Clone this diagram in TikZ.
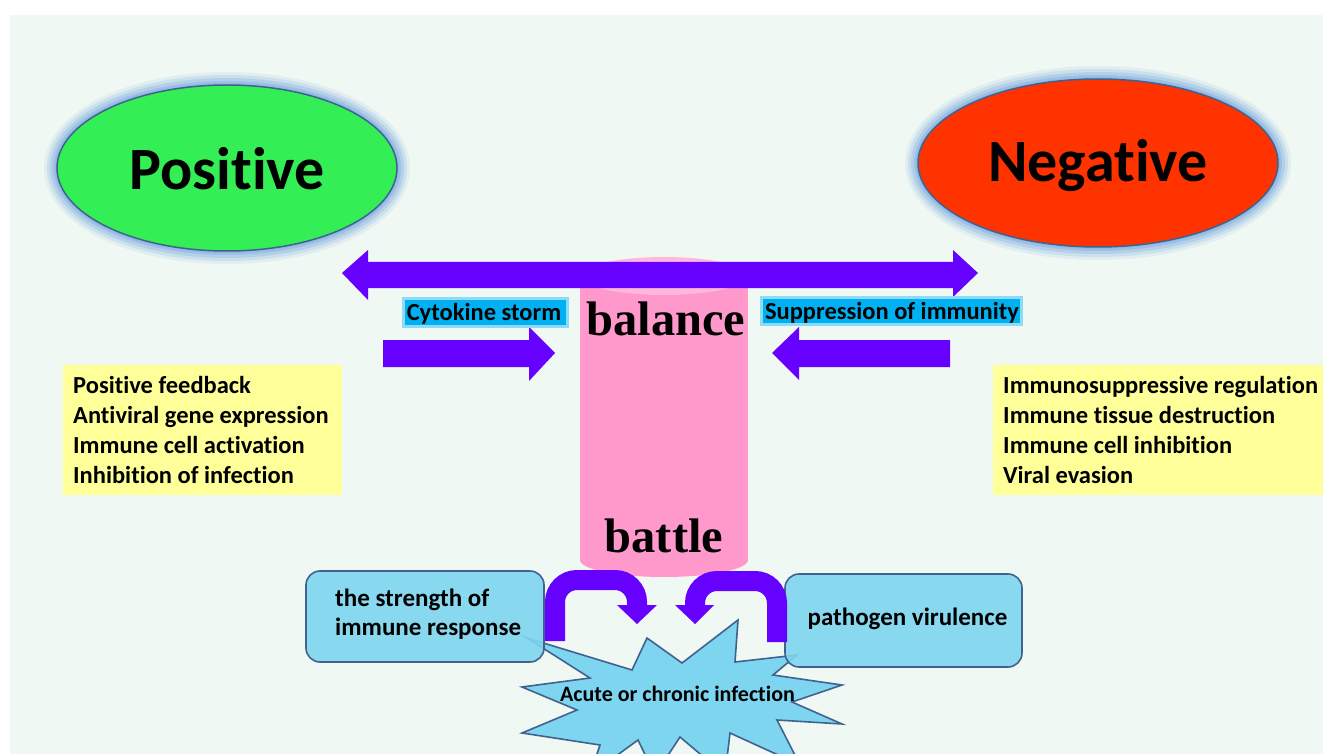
\documentclass[tikz,border=0pt]{standalone}
\usepackage{fontspec}
\setmainfont{Carlito}[Ligatures=NoCommon]
\newfontfamily\serifbold{Liberation Serif}[BoldFont={* Bold}]
\usetikzlibrary{shapes.geometric}
\definecolor{bgc}{HTML}{EFF8F3}
\definecolor{purp}{HTML}{6600FF}
\definecolor{grn}{HTML}{33EE55}
\definecolor{rdc}{HTML}{FF3300}
\definecolor{edgec}{HTML}{41628F}
\definecolor{glowc}{HTML}{8FB8E4}
\definecolor{pinkc}{HTML}{FF99CC}
\definecolor{pinkt}{HTML}{FFB8DA}
\definecolor{lblue}{HTML}{7DD5F0}
\definecolor{cyanb}{HTML}{00B0F0}
\definecolor{yel}{HTML}{FFFF99}
\newcommand\setfs[1]{\fontsize{#1}{#1}\selectfont}
\tikzset{
  oval/.style={ellipse, draw=edgec, line width=1.5pt, inner sep=0pt, minimum width=340pt, minimum height=166pt},
  bigword/.style={anchor=base, font=\bfseries\setfs{60}, inner sep=0pt},
  serifword/.style={anchor=base, font=\serifbold\bfseries\setfs{48.5}, inner sep=0pt},
  tagbox/.style={fill=cyanb, draw=cyanb!45, line width=3pt, inner sep=0pt},
  tagtext/.style={anchor=base, font=\bfseries\setfs{24.5}, inner sep=0pt},
  listbox/.style={fill=yel, draw=none, inner sep=0pt},
  listline/.style={anchor=base west, font=\bfseries\setfs{24.5}, inner sep=0pt},
  roundbox/.style={fill=lblue, fill opacity=0.9, draw=edgec, line width=1.6pt, rounded corners=14pt, inner sep=0pt},
  boxtext/.style={anchor=base west, font=\bfseries\setfs{25}, inner sep=0pt},
  fatarrow/.style={fill=purp},
  bentarrow/.style={draw=purp, line width=20pt, rounded corners=22pt},
}
\begin{document}
\begin{tikzpicture}[x=1pt,y=-1pt]
\useasboundingbox (0,0) rectangle (1323,754);
\fill[white] (0,0) rectangle (1323,754);
\fill[bgc] (10,15) rectangle (1323,754);

% glowing ellipses
\foreach \w/\o in {26/0.15,20/0.25,14/0.4,8/0.6,4/0.8}{
  \draw[glowc, line width=\w pt, opacity=\o] (227,168) ellipse [x radius=170pt, y radius=83pt];
  \draw[glowc, line width=\w pt, opacity=\o] (1098,163) ellipse [x radius=180pt, y radius=84pt];
}
\node[oval, fill=grn] (pos) at (227,168) {};
\node[oval, fill=rdc, minimum width=360pt, minimum height=168pt] (neg) at (1098,163) {};
\node[bigword] (posT) at (227,190) {Positive};
\node[bigword] (negT) at (1098,182) {Negative};

% pink cylinder
\fill[pinkc] (580,276) rectangle (748,560);
\fill[pinkc] (664,560) ellipse [x radius=84pt, y radius=17pt];
\fill[pinkt] (664,276) ellipse [x radius=84pt, y radius=19pt];
\node[serifword] (bal) at (666,335) {balance};
\node[serifword] (bat) at (664,552) {battle};

% double arrow
\fill[fatarrow] (342,273) -- (368,250) -- (368,262) -- (953,262) -- (953,250) -- (978,273)
  -- (953,297) -- (953,288) -- (368,288) -- (368,300) -- cycle;

% side arrows
\fill[fatarrow] (383,340) -- (529,340) -- (529,327) -- (555,353) -- (529,381) -- (529,367) -- (383,367) -- cycle;
\fill[fatarrow] (950,340) -- (799,340) -- (799,327) -- (772,353) -- (799,380) -- (799,367) -- (950,367) -- cycle;

% tags
\node[tagbox, minimum width=164pt, minimum height=28pt] (cytB) at (485,312.5) {};
\node[tagtext] (cytT) at (484,320) {Cytokine storm};
\node[tagbox, minimum width=260pt, minimum height=27pt] (supB) at (891,311) {};
\node[tagtext] (supT) at (892,319) {Suppression of immunity};

% yellow lists
\node[listbox, minimum width=279pt, minimum height=130pt] (lbox) at (202.5,430) {};
\node[listline] (l1) at (73,393) {Positive feedback};
\node[listline] (l2) at (73,423) {Antiviral gene expression};
\node[listline] (l3) at (73,453) {Immune cell activation};
\node[listline] (l4) at (73,483) {Inhibition of infection};
\node[listbox, minimum width=331pt, minimum height=130pt] (rbox) at (1158.5,430) {};
\node[listline] (r1) at (1003,393) {Immunosuppressive regulation};
\node[listline] (r2) at (1003,423) {Immune tissue destruction};
\node[listline] (r3) at (1003,453) {Immune cell inhibition};
\node[listline] (r4) at (1003,483) {Viral evasion};

% starburst
\coordinate (starc) at (660,694);
\filldraw[fill=lblue, draw=edgec, line width=1.6pt, line join=miter]
  (527,638) -- (590,678) -- (522,687) -- (577,710) -- (522,733) -- (600,745) -- (590,775)
  -- (638,740) -- (655,775) -- (680,737) -- (725,775) -- (730,733) -- (800,765) -- (777,720)
  -- (842,724) -- (792,702) -- (842,685) -- (773,675) -- (797,655) -- (735,662) -- (738,620)
  -- (682,663) -- (647,638) -- (632,670) -- cycle;
\node[anchor=base, font=\bfseries\setfs{22}, inner sep=0pt] (inf) at (677.5,701) {Acute or chronic infection};

% bottom boxes
\node[roundbox, minimum width=238pt, minimum height=91pt] (strB) at (425,616.5) {};
\node[boxtext] (str1) at (335,606) {the strength of};
\node[boxtext] (str2) at (335,635) {immune response};
\node[roundbox, minimum width=237pt, minimum height=93pt] (virB) at (903.5,620.5) {};
\node[anchor=base, font=\bfseries\setfs{25}, inner sep=0pt] (virT) at (907.5,625) {pathogen virulence};

% bent arrows
\draw[bentarrow] (555,641) -- (555,580) -- (637,580) -- (637,607);
\fill[fatarrow] (617,605) -- (657,605) -- (637,624) -- cycle;
\draw[bentarrow] (777,642) -- (777,581) -- (695,581) -- (695,607);
\fill[fatarrow] (675,605) -- (714,605) -- (695,624) -- cycle;
\end{tikzpicture}
\end{document}
